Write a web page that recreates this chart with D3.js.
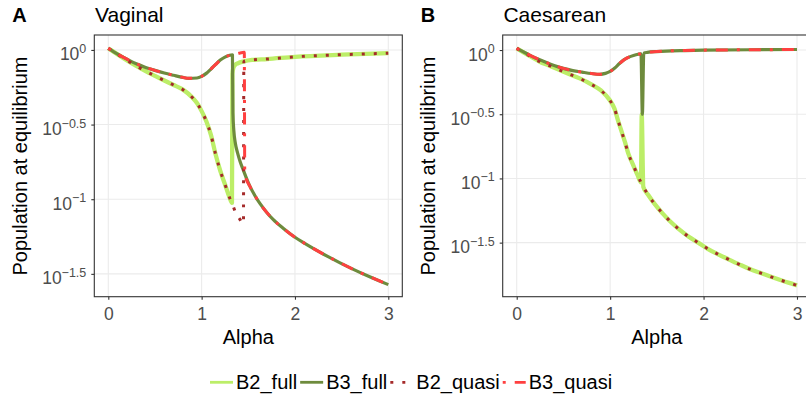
<!DOCTYPE html>
<html>
<head>
<meta charset="utf-8">
<script src="https://cdn.jsdelivr.net/npm/d3@7"></script>
<style>
  body { margin: 0; background: #fff; }
  svg { display: block; font-family: "Liberation Sans", Arial, Helvetica, sans-serif; }
</style>
</head>
<body>
<svg id="chart" width="806" height="400"></svg>
<script>
// ---- data (y values are log10 of population at equilibrium) ----
const xTicks = [0, 1, 2, 3];
const yTicks = [0, -0.5, -1, -1.5];
const yTickExp = ["0", "\u22120.5", "\u22121", "\u22121.5"];

const seriesNames  = ["B2_full", "B3_full", "B2_quasi", "B3_quasi"];
const seriesColors = ["#BCEE68", "#6E8B3D", "#A52A2A", "#FF4040"];

// Vaginal: upper branch (B3), lower branch (B2), high right branch, low right branch
const vagUpperAlpha = [0, 0.1, 0.2, 0.3, 0.4, 0.5, 0.6, 0.7, 0.8, 0.86, 0.95, 1.0, 1.05, 1.1, 1.15, 1.2, 1.25, 1.3, 1.33, 1.36, 1.4, 1.457];
const vagUpperLog   = [0.011, -0.028, -0.062, -0.093, -0.117, -0.137, -0.155, -0.170, -0.184, -0.190, -0.188, -0.177, -0.157, -0.128, -0.097, -0.068, -0.048, -0.036, -0.033, -0.028, -0.022, -0.016];
const vagLowerAlpha = [0, 0.1, 0.2, 0.3, 0.4, 0.5, 0.6, 0.7, 0.8, 0.9, 0.95, 1.0, 1.05, 1.1, 1.15, 1.2, 1.25, 1.3, 1.325, 1.365, 1.405, 1.448];
const vagLowerLog   = [0.011, -0.03, -0.07, -0.107, -0.142, -0.174, -0.205, -0.235, -0.266, -0.319, -0.356, -0.41, -0.478, -0.57, -0.70, -0.81, -0.90, -0.99, -1.025, -1.09, -1.13, -1.165];
const vagHighAlpha  = [1.33, 1.34, 1.36, 1.39, 1.452, 1.54, 1.7, 2.0, 2.5, 3.0];
const vagHighLog    = [-0.16, -0.12, -0.10, -0.089, -0.077, -0.067, -0.061, -0.046, -0.032, -0.022];
const vagLowAlpha   = [1.335, 1.345, 1.36, 1.385, 1.412, 1.45, 1.462, 1.519, 1.57, 1.626, 1.7, 1.768, 1.88, 2.0, 2.1, 2.2, 2.35, 2.483, 2.62, 2.77, 2.9, 3.0];
const vagLowLog     = [-0.42, -0.54, -0.62, -0.69, -0.748, -0.81, -0.83, -0.916, -0.975, -1.03, -1.09, -1.137, -1.198, -1.255, -1.294, -1.331, -1.383, -1.426, -1.468, -1.511, -1.546, -1.572];

// Caesarean: upper branch (B3), lower branch (B2), and the one-point spikes of the full models
const caeUpperAlpha = [0, 0.1, 0.2, 0.3, 0.4, 0.5, 0.6, 0.7, 0.8, 0.89, 0.95, 1.0, 1.05, 1.1, 1.15, 1.2, 1.25, 1.3, 1.33, 1.36, 1.4, 1.5, 1.6, 1.8, 2.0, 2.5, 3.0];
const caeUpperLog   = [0.013, -0.025, -0.062, -0.092, -0.12, -0.143, -0.16, -0.172, -0.183, -0.189, -0.182, -0.167, -0.14, -0.105, -0.075, -0.055, -0.042, -0.033, -0.03, -0.024, -0.018, -0.012, -0.008, -0.004, -0.001, 0.002, 0.004];
const caeLowerAlpha = [0, 0.1, 0.246, 0.35, 0.46, 0.56, 0.674, 0.798, 0.905, 0.995, 1.048, 1.083, 1.123, 1.16, 1.194, 1.247, 1.294, 1.33, 1.355, 1.408, 1.48, 1.561, 1.647, 1.739, 1.842, 1.942, 2.049, 2.156, 2.267, 2.381, 2.495, 2.613, 2.73, 2.845, 2.966, 3.0];
const caeLowerLog   = [0.013, -0.03, -0.091, -0.122, -0.156, -0.187, -0.221, -0.267, -0.317, -0.389, -0.459, -0.545, -0.636, -0.72, -0.805, -0.896, -0.974, -1.03, -1.065, -1.129, -1.202, -1.272, -1.337, -1.397, -1.454, -1.5, -1.55, -1.591, -1.63, -1.669, -1.706, -1.737, -1.768, -1.797, -1.825, -1.833];
const caeB2SpikeAlpha = [1.338];
const caeB2SpikeLog   = [-0.5];
const caeB3SpikeAlpha = [1.345];
const caeB3SpikeLog   = [-0.5];

// ---- helpers ----
const pts = (a, l) => a.map((x, i) => ({ a: x, v: l[i] }));
const part = (a, l, lo, hi) => pts(a, l).filter(p => p.a >= lo && p.a <= hi);
const merge = (...lists) => [].concat(...lists).sort((p, q) => p.a - q.a);

const panels = [
  {
    tag: "A", title: "Vaginal",
    left: 94.3, right: 402.3, yDomain: [-1.653, 0.1],
    series: [
      part(vagLowerAlpha, vagLowerLog, 0, 1.325).concat(part(vagHighAlpha, vagHighLog, 1.33, 3)),
      part(vagUpperAlpha, vagUpperLog, 0, 1.33).concat(part(vagLowAlpha, vagLowLog, 1.335, 3)),
      part(vagLowerAlpha, vagLowerLog, 0, 1.448).concat(part(vagHighAlpha, vagHighLog, 1.452, 3)),
      part(vagUpperAlpha, vagUpperLog, 0, 1.457).concat(part(vagLowAlpha, vagLowLog, 1.462, 3))
    ]
  },
  {
    tag: "B", title: "Caesarean",
    left: 502.7, right: 811, yDomain: [-1.921, 0.117],
    series: [
      merge(pts(caeLowerAlpha, caeLowerLog), pts(caeB2SpikeAlpha, caeB2SpikeLog)),
      merge(pts(caeUpperAlpha, caeUpperLog), pts(caeB3SpikeAlpha, caeB3SpikeLog)),
      pts(caeLowerAlpha, caeLowerLog),
      pts(caeUpperAlpha, caeUpperLog)
    ]
  }
];

const plotTop = 35, plotBottom = 296.7;
const lineWidths = [4.3, 3.2, 3, 3];
const lineDash = [null, null, "3 9", "3 9 12 9"];
const svg = d3.select("#chart");

panels.forEach(p => {
  const x = d3.scaleLinear().domain([-0.15, 3.15]).range([p.left, p.right]);
  const y = d3.scaleLinear().domain(p.yDomain).range([plotBottom, plotTop]);
  const g = svg.append("g");

  // grid
  g.selectAll(".vgrid").data(xTicks).enter().append("line")
    .attr("x1", d => x(d)).attr("x2", d => x(d))
    .attr("y1", plotTop).attr("y2", plotBottom)
    .attr("stroke", "#EBEBEB").attr("stroke-width", 1.1);
  g.selectAll(".hgrid").data(yTicks).enter().append("line")
    .attr("x1", p.left).attr("x2", p.right)
    .attr("y1", d => y(d)).attr("y2", d => y(d))
    .attr("stroke", "#EBEBEB").attr("stroke-width", 1.1);

  // lines
  const line = d3.line().x(d => x(d.a)).y(d => y(d.v)).curve(d3.curveMonotoneX);
  p.series.forEach((s, i) => {
    g.append("path")
      .attr("d", line(s))
      .attr("fill", "none")
      .attr("stroke", seriesColors[i])
      .attr("stroke-width", lineWidths[i])
      .attr("stroke-dasharray", lineDash[i])
      .attr("stroke-linejoin", "round");
  });

  // border
  g.append("rect")
    .attr("x", p.left).attr("y", plotTop)
    .attr("width", p.right - p.left).attr("height", plotBottom - plotTop)
    .attr("fill", "none").attr("stroke", "#333333").attr("stroke-width", 1.1);

  // x axis
  const xg = g.append("g")
    .attr("transform", `translate(0,${plotBottom})`)
    .call(d3.axisBottom(x).tickValues(xTicks).tickFormat(d3.format("d")).tickSize(3).tickPadding(8));
  xg.select(".domain").remove();
  xg.selectAll(".tick line").attr("stroke", "#333333").attr("stroke-width", 1.1);
  xg.selectAll(".tick text")
    .attr("fill", "#4D4D4D").style("font-size", "17.5px").attr("font-family", null);

  // y axis with 10^x labels
  const yg = g.append("g")
    .attr("transform", `translate(${p.left},0)`)
    .call(d3.axisLeft(y).tickValues(yTicks).tickSize(3).tickPadding(5));
  yg.select(".domain").remove();
  yg.selectAll(".tick line").attr("stroke", "#333333").attr("stroke-width", 1.1);
  yg.selectAll(".tick text").each(function (d, i) {
    const t = d3.select(this).text(null)
      .attr("dy", null).attr("y", 10)
      .attr("fill", "#4D4D4D").attr("font-family", null)
      .style("font-size", "17.5px");
    t.append("tspan").text("10");
    t.append("tspan").attr("dy", -7.5).style("font-size", "12.5px").text(yTickExp[i]);
  });

  // titles
  svg.append("text").attr("x", p.left - 82).attr("y", 21.5)
    .style("font-size", "20px").style("font-weight", "bold").text(p.tag);
  svg.append("text").attr("x", p.left + 0.7).attr("y", 21.5)
    .style("font-size", "21px").text(p.title);
  svg.append("text")
    .attr("x", (p.left + p.right) / 2).attr("y", 344)
    .attr("text-anchor", "middle").style("font-size", "20px").text("Alpha");
  svg.append("text")
    .attr("transform", `translate(${p.left - 67.3},166) rotate(-90)`)
    .attr("text-anchor", "middle").style("font-size", "20px")
    .text("Population at equilibrium");
});

// legend
const legend = svg.append("g");
let lx = 210;
const keyW = 23;
seriesNames.forEach((name, i) => {
  legend.append("line")
    .attr("x1", lx).attr("x2", lx + keyW)
    .attr("y1", 382.3).attr("y2", 382.3)
    .attr("stroke", seriesColors[i]).attr("stroke-width", 2.8)
    .attr("stroke-dasharray", lineDash[i]);
  const t = legend.append("text")
    .attr("x", lx + keyW + 3).attr("y", 389.3)
    .style("font-size", "20px").text(name);
  lx += keyW + 3 + t.node().getComputedTextLength() + 3;
});
</script>
</body>
</html>
